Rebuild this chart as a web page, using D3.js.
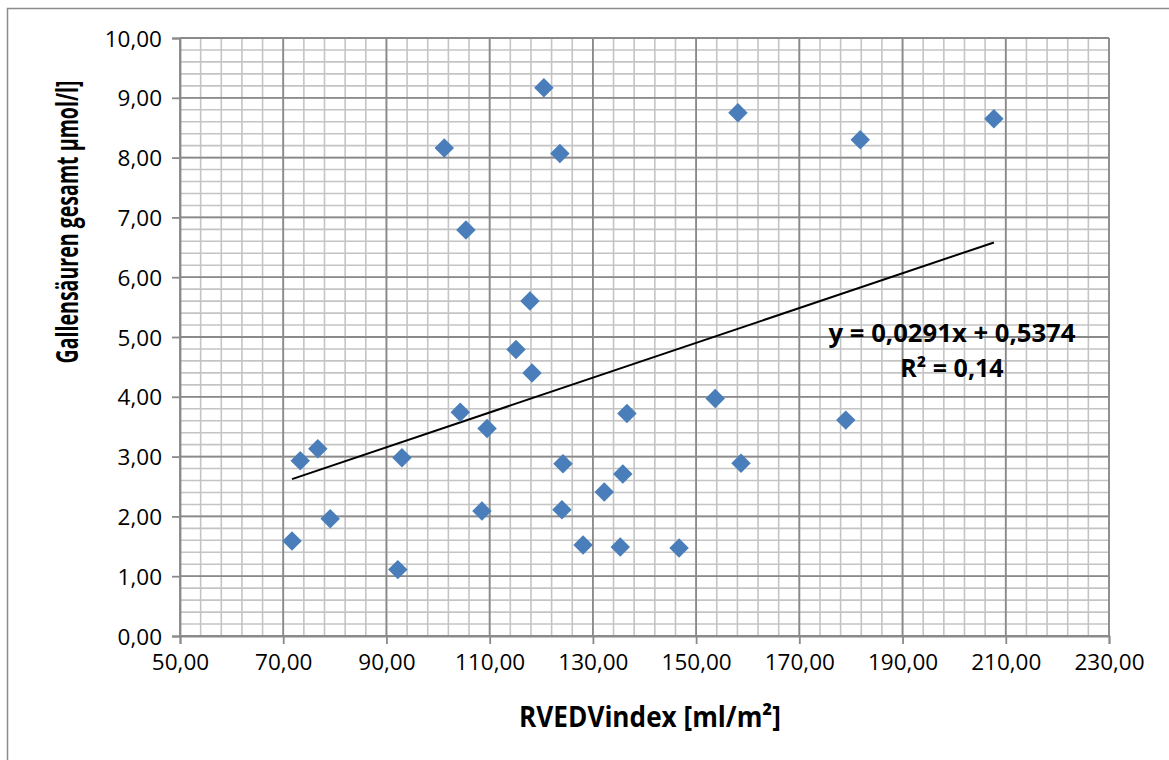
<!DOCTYPE html>
<meta charset="utf-8">
<style>
  body { margin: 0; background: #fff; }
  text { font-family: "Open Sans", "Liberation Sans", sans-serif; }
</style>
<svg width="1169" height="760"></svg>
<script src="https://cdn.jsdelivr.net/npm/d3@7"></script>
<script>

// RVEDV index (x) and total bile acids (y)
var rvedv = [71.7, 73.3, 76.7, 79.1, 92.2, 93.0, 101.2, 104.3, 105.4, 108.5,
             109.5, 115.1, 117.8, 118.2, 120.5, 123.6, 124.0, 124.2, 128.1, 132.2,
             135.3, 135.8, 136.6, 146.7, 153.7, 158.1, 158.7, 179.0, 181.8, 207.7];
var gallen = [1.59, 2.93, 3.13, 1.96, 1.11, 2.98, 8.16, 3.74, 6.79, 2.09,
              3.47, 4.79, 5.60, 4.40, 9.17, 8.07, 2.11, 2.88, 1.52, 2.41,
              1.49, 2.71, 3.72, 1.47, 3.97, 8.75, 2.89, 3.61, 8.30, 8.65];
var xTicks = [50, 70, 90, 110, 130, 150, 170, 190, 210, 230];
var yTicks = [0, 1, 2, 3, 4, 5, 6, 7, 8, 9, 10];
var slope = 0.0291, intercept = 0.5374;
var eqLabel = "y = 0,0291x + 0,5374";
var r2Label = "R² = 0,14";

var svg = d3.select("svg");
var plotL = 180, plotR = 1109, plotT = 38, plotB = 636;

var x = d3.scaleLinear().domain([50, 230]).range([plotL, plotR]);
var y = d3.scaleLinear().domain([0, 10]).range([plotB, plotT]);
var fmt = function(v) { return d3.format(".2f")(v).replace(".", ","); };

// chart frame
svg.append("rect").attr("x", 7.5).attr("y", 8.5).attr("width", 1170).attr("height", 760)
  .attr("fill", "none").attr("stroke", "#8c8c8c").attr("stroke-width", 1.5);

// minor grid
var g = svg.append("g");
g.selectAll(".mx").data(d3.range(50, 230.1, 4)).enter().append("line")
  .attr("x1", d => x(d)).attr("x2", d => x(d)).attr("y1", plotT).attr("y2", plotB)
  .attr("stroke", "#c4c4c4").attr("stroke-width", 1.6);
g.selectAll(".my").data(d3.range(0, 10.01, 0.2)).enter().append("line")
  .attr("x1", plotL).attr("x2", plotR).attr("y1", d => y(d)).attr("y2", d => y(d))
  .attr("stroke", "#c4c4c4").attr("stroke-width", 1.6);
// major grid
g.selectAll(".Mx").data(xTicks).enter().append("line")
  .attr("x1", d => x(d)).attr("x2", d => x(d)).attr("y1", plotT).attr("y2", plotB)
  .attr("stroke", "#8a8a8a").attr("stroke-width", 1.8);
g.selectAll(".My").data(yTicks).enter().append("line")
  .attr("x1", plotL).attr("x2", plotR).attr("y1", d => y(d)).attr("y2", d => y(d))
  .attr("stroke", "#8a8a8a").attr("stroke-width", 1.8);

// axes
var xAxis = svg.append("g").attr("transform", "translate(0," + plotB + ")")
  .call(d3.axisBottom(x).tickValues(xTicks).tickFormat(fmt).tickSize(8).tickPadding(10));
var yAxis = svg.append("g").attr("transform", "translate(" + plotL + ",0)")
  .call(d3.axisLeft(y).tickValues(yTicks).tickFormat(fmt).tickSize(8).tickPadding(10));
[xAxis, yAxis].forEach(function(a) {
  a.select(".domain").attr("stroke", "#8a8a8a").attr("stroke-width", 1.8);
  a.selectAll(".tick line").attr("stroke", "#8a8a8a").attr("stroke-width", 1.8);
  a.selectAll(".tick text").attr("fill", "#000").style("font-size", "22.5px")
    .style("font-family", "'Open Sans', sans-serif");
});
yAxis.selectAll(".tick text").attr("dy", "0.36em");

// trendline
var xmin = d3.min(rvedv), xmax = d3.max(rvedv);
svg.append("line")
  .attr("x1", x(xmin)).attr("y1", y(slope * xmin + intercept))
  .attr("x2", x(xmax)).attr("y2", y(slope * xmax + intercept))
  .attr("stroke", "#000").attr("stroke-width", 2);

// points
svg.append("g").selectAll("path").data(rvedv).enter().append("path")
  .attr("d", d3.symbol().type(d3.symbolSquare).size(190))
  .attr("transform", (d, i) => "translate(" + x(d) + "," + y(gallen[i]) + ") rotate(45)")
  .attr("fill", "#4a7ebb");

// squeeze text horizontally to a target width (Calibri-like look)
function fitText(sel, w, pre) {
  var n = sel.node().getComputedTextLength();
  sel.attr("transform", pre + " scale(" + (w / n) + ",1)");
}

// equation
var eq = svg.append("text").attr("text-anchor", "middle")
  .style("font-size", "25px").style("font-weight", "bold").text(eqLabel);
fitText(eq, 247, "translate(952,342)");
svg.append("text").attr("x", 952).attr("y", 377).attr("text-anchor", "middle")
  .style("font-size", "25px").style("font-weight", "bold").text(r2Label);

// axis titles
var xt = svg.append("text").attr("text-anchor", "middle")
  .style("font-size", "28px").style("font-weight", "bold").text("RVEDVindex [ml/m²]");
fitText(xt, 262, "translate(650,727)");
var yt = svg.append("text").attr("text-anchor", "middle")
  .style("font-size", "30px").style("font-weight", "bold").text("Gallensäuren gesamt µmol/l]");
fitText(yt, 283, "translate(78,222) rotate(-90)");

</script>
